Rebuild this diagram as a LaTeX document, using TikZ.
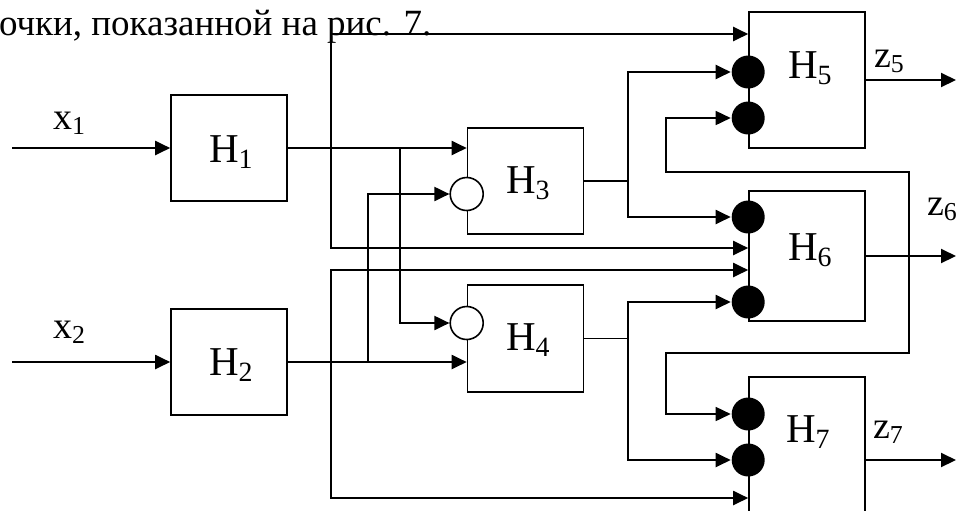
\documentclass[tikz,border=0pt]{standalone}
\usepackage{fontspec}
\setmainfont{Liberation Serif}
\usetikzlibrary{arrows.meta}
\newcommand\sbs[1]{\raisebox{-0.15em}{\scalebox{0.68}{#1}}}

\begin{document}
\begin{tikzpicture}[x=0.5pt, y=-0.5pt, >={Triangle[length=7.5pt,width=7pt]},
    line width=1pt,
    block/.style={draw, line width=0.8pt, minimum width=58pt, inner sep=0pt},
    inv/.style={circle, draw, fill=white, line width=0.8pt, minimum size=16.5pt, inner sep=0pt},
    dot/.style={circle, fill=black, minimum size=16.5pt, inner sep=0pt},
    lbl/.style={anchor=base west, inner sep=0pt, font=\fontsize{20.5}{24}\selectfont},
    sig/.style={anchor=base west, inner sep=0pt, font=\fontsize{19}{22}\selectfont},
    thinline/.style={line width=0.8pt}]
  \useasboundingbox (0,0) rectangle (957,510);
  \clip (0,0) rectangle (957,510);
  \node[anchor=base west, inner sep=0pt, font=\fontsize{18.5}{22}\selectfont] (title) at (-2,35) {очки, показанной на рис. 7.};

  \node[block, minimum height=53pt] (H1) at (229,148) {};
  \node[block, minimum height=53pt] (H2) at (229,362) {};
  \node[block, minimum height=53pt] (H3) at (525.5,181) {};
  \node[block, minimum height=53.5pt] (H4) at (525.5,338.5) {};
  \node[block, minimum height=68pt] (H5) at (807,80) {};
  \node[block, minimum height=65pt] (H6) at (807,256) {};
  \node[block, minimum height=83pt] (H7) at (807,460) {};

  \node[lbl] (t1) at (208,162) {H\sbs{1}};
  \node[lbl] (t2) at (208,375) {H\sbs{2}};
  \node[lbl] (t3) at (505,193) {H\sbs{3}};
  \node[lbl] (t4) at (505,350) {H\sbs{4}};
  \node[lbl] (t5) at (787,78) {H\sbs{5}};
  \node[lbl] (t6) at (787,260) {H\sbs{6}};
  \node[lbl] (t7) at (785,442) {H\sbs{7}};

  \node[sig] (x1) at (52,129) {x\sbs{1}};
  \node[sig] (x2) at (52,338) {x\sbs{2}};
  \node[sig] (z5) at (873,67) {z\sbs{5}};
  \node[sig] (z6) at (926,215) {z\sbs{6}};
  \node[sig] (z7) at (872,438) {z\sbs{7}};

  \node[inv] (c3) at (H3.west |- 0,194) {};
  \node[inv] (c4) at (H4.west |- 0,323) {};
  \node[dot] (d5a) at (H5.west |- 0,72) {};
  \node[dot] (d5b) at (H5.west |- 0,118) {};
  \node[dot] (d6a) at (H6.west |- 0,217) {};
  \node[dot] (d6b) at (H6.west |- 0,302) {};
  \node[dot] (d7a) at (H7.west |- 0,414) {};
  \node[dot] (d7b) at (H7.west |- 0,460) {};

  \coordinate (in1) at (12,148);
  \coordinate (in2) at (12,362);
  \coordinate (out5) at (956,80);
  \coordinate (out6) at (956,256);
  \coordinate (out7) at (956,460);

  \draw[->] (in1) -- (H1);
  \draw[->] (in2) -- (H2);

  \draw[->] (H1.east) -- (H1.east -| H3.west);
  \draw[->] (H1.east -| 331,0) |- (H5.west |- 0,34);
  \draw[->] (H1.east -| 331,0) |- (H6.west |- 0,248);
  \draw[->] (H1.east -| 400,0) |- (c4);

  \draw[->] (H2.east) -- (H2.east -| H4.west);
  \draw[->] (H2.east -| 368,0) |- (c3);
  \draw[->] (H2.east -| 331,0) |- (H6.west |- 0,270);
  \draw[->] (H2.east -| 331,0) |- (H7.west |- 0,498);

  \draw[thinline] (H3.east) -- (H3.east -| 628,0);
  \draw[->] (H3.east -| 628,0) |- (d5a);
  \draw[->] (H3.east -| 628,0) |- (d6a);
  \draw[thinline] (H4.east) -- (H4.east -| 628,0);
  \draw[->] (H4.east -| 628,0) |- (d6b);
  \draw[->] (H4.east -| 628,0) |- (d7b);

  \draw[->] (H5.east) -- (out5);
  \draw[->] (H6.east) -- (out6);
  \draw[->] (H7.east) -- (out7);
  \draw[->, thinline] (H6.east -| 909,0) |- (666,172) |- (d5b);
  \draw[->, thinline] (H6.east -| 909,0) |- (666,353) |- (d7a);
\end{tikzpicture}
\end{document}
